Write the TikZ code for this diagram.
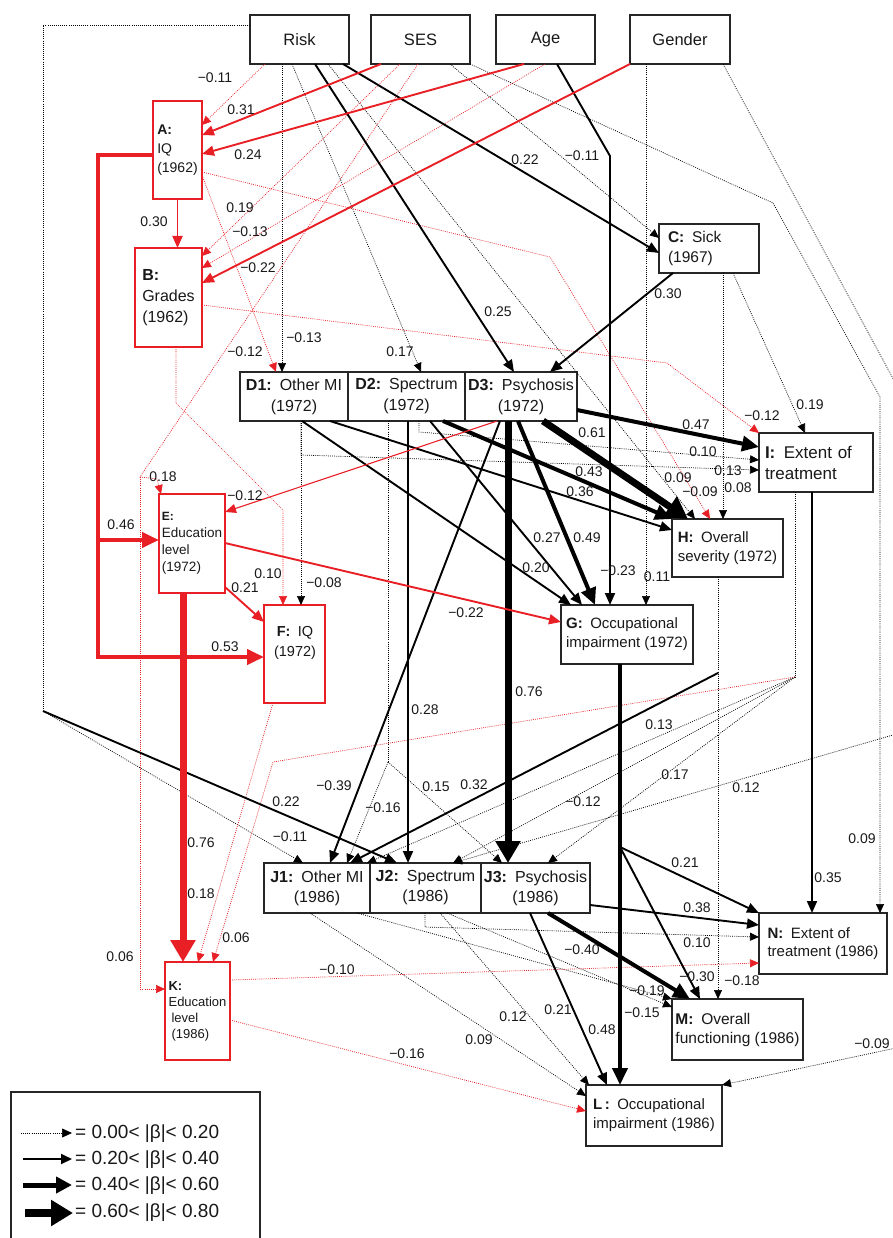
\documentclass[tikz,border=0pt]{standalone}
\usepackage{fontspec}
\setmainfont{Liberation Sans}
\usetikzlibrary{arrows.meta,calc}
\definecolor{rd}{RGB}{232,32,38}
\newcommand\setfs[2]{\fontsize{#1}{#2}\selectfont}
\begin{document}
\begin{tikzpicture}[x=1pt,y=-1pt,
 bx/.style={draw=black!85, line width=1.3pt, fill=white, inner sep=2pt, outer sep=0pt, anchor=north west, align=center, text=black!90},
 rbx/.style={bx, draw=rd},
 lab/.style={font=\setfs{14}{14}, inner sep=0pt, text=black!90},
 p0/.style={line width=0.7pt, dash pattern=on 0.9pt off 1.2pt, -{Triangle[length=9pt,width=8pt]}},
 p1/.style={line width=1.9pt, -{Triangle[length=12pt,width=10pt]}},
 p2/.style={line width=4pt, line join=miter, -{Triangle[length=17pt,width=15pt]}},
 p3/.style={line width=7pt, -{Triangle[length=22pt,width=24pt]}},
 pr/.style={line width=1.1pt, -{Triangle[length=11pt,width=9pt]}}
]
\useasboundingbox (0,0) rectangle (893,1238);
\clip (0,0) rectangle (893,1238);

% ---------- boxes ----------
\node[bx,minimum width=99,minimum height=49,font=\setfs{16.5}{19}] (Risk) at (250,15) {Risk};
\node[bx,minimum width=99,minimum height=49,font=\setfs{16.5}{19}] (SES) at (371,15) {SES};
\node[bx,minimum width=99,minimum height=49,font=\setfs{16.5}{19}] (Age) at (496,15) {Age};
\node[bx,minimum width=100,minimum height=49,font=\setfs{16.5}{19}] (Gender) at (630,15) {Gender};
\node[rbx,minimum width=49,minimum height=98,align=left,font=\setfs{14}{19}] (A) at (153,101) {\textbf{A:}\\IQ\\(1962)};
\node[rbx,minimum width=67,minimum height=99,align=left,font=\setfs{16}{21}] (B) at (135,248) {\textbf{B:}\\Grades\\(1962)};
\node[bx,minimum height=49,text width=82,inner xsep=9,align=left,font=\setfs{15.5}{20}] (C) at (659,224) {\textbf{C:}\enspace Sick\\(1967)};
\node[bx,minimum width=108,minimum height=49,inner xsep=1,font=\setfs{16}{21}] (D1) at (240,372) {\textbf{D1:}\enspace Other MI\\(1972)};
\node[bx,minimum width=117,minimum height=49,inner xsep=1,font=\setfs{16}{21}] (D2) at (348,372) {\textbf{D2:}\enspace Spectrum\\(1972)};
\node[bx,minimum width=112,minimum height=49,inner xsep=1,font=\setfs{16}{21}] (D3) at (465,372) {\textbf{D3:}\enspace Psychosis\\(1972)};
\node[rbx,minimum width=66,minimum height=99,align=left,font=\setfs{13.5}{17}] (E) at (159,494) {{\setfs{12}{17}\textbf{E:}}\\Education\\level\\(1972)};
\node[rbx,minimum width=61,minimum height=98] (F) at (264,605) {};
\node[align=center,font=\setfs{14.5}{20},text=black!90,inner sep=0pt] (Ft) at (295,643) {\textbf{F:}\enspace IQ\\(1972)};
\node[bx,minimum width=132,minimum height=59,align=left,font=\setfs{15}{19}] (G) at (561,605) {\textbf{G:}\enspace Occupational\\impairment (1972)};
\node[bx,minimum width=111,minimum height=58,align=left,font=\setfs{15}{19}] (H) at (672,519) {\textbf{H:}\enspace Overall\\severity (1972)};
\node[bx,minimum height=59,text width=102,inner xsep=6,align=left,font=\setfs{17}{21}] (I) at (759,433) {\textbf{I:}\enspace Extent of\\treatment};
\node[bx,minimum width=106,minimum height=50,inner xsep=1,font=\setfs{16}{20}] (J1) at (264,863) {\textbf{J1:}\enspace Other MI\\(1986)};
\node[bx,minimum width=111,minimum height=50,inner xsep=1,font=\setfs{16}{20}] (J2) at (370,863) {\textbf{J2:}\enspace Spectrum\\(1986)};
\node[bx,minimum width=109,minimum height=50,inner xsep=1,font=\setfs{16}{20}] (J3) at (481,863) {\textbf{J3:}\enspace Psychosis\\(1986)};
\node[rbx,minimum width=65,minimum height=98,align=left,font=\setfs{13}{16}] (K) at (165,962) {\textbf{K:}\\Education\\\hspace*{3pt}level\\\hspace*{3pt}(1986)};
\node[bx,minimum width=136,minimum height=61,align=left,font=\setfs{15}{19}] (L) at (586,1085) {\textbf{L\,:}\enspace Occupational\\impairment (1986)};
\node[bx,minimum width=131,minimum height=61,align=left,font=\setfs{15.5}{19}] (M) at (672,999) {\textbf{M:}\enspace Overall\\functioning (1986)};
\node[bx,minimum width=128,minimum height=61,align=left,font=\setfs{15}{18}] (N) at (759,913) {\textbf{N:}\enspace Extent of\\treatment (1986)};
\node[bx,minimum width=249,minimum height=170] (leg) at (11,1092) {};

% ---------- junction coordinates ----------
\coordinate (rkA) at (43,25);
\coordinate (rkB) at (43,711);
\coordinate (ageb) at (610,156);
\coordinate (abend) at (550,257);
\coordinate (bbend) at (667,363);
\coordinate (sesn1) at (773,203);
\coordinate (sesn2) at (880,397);
\coordinate (gx1) at (910,410);
\coordinate (gx2) at (910,730);
\coordinate (gx3) at (910,1045);
\coordinate (bf1) at (176,403);
\coordinate (bf2) at (283,510);
\coordinate (d1b) at (301,455);
\coordinate (d2b) at (419,432);
\coordinate (fanD2) at (388,762);
\coordinate (ath) at (98,155);
\coordinate (atb) at (98,657);
\coordinate (ate) at (98,540);
\coordinate (sesb) at (140,477);
\coordinate (sese) at (157,479);
\coordinate (sesk) at (140,989);
\coordinate (fanI) at (795,677);
\coordinate (ik) at (273,762);
\coordinate (hj) at (718,673);
\coordinate (gj) at (620,847);
\coordinate (j2n) at (425,927);

% ---------- black dotted ----------
\draw[p0] (Risk.south -| 282,0) -- (D1.north -| 282,0);
\draw[p0] (Risk.south -| 292,0) -- (D2.north -| 421,0);
\draw[p0] (Risk.south -| 328,0) -- (H.north -| 695,0);
\draw[p0] (SES.south -| 450,0) -- (C.west |- 0,238);
\draw[p0] (SES.south -| 470,0) -- (sesn1) -- (sesn2) -- (N.north -| 880,0);
\draw[p0] (Gender.south -| 646,0) -- (G.north -| 646,0);
\draw[p0,-] (Gender.south -| 723,0) -- (gx1) -- (gx3);
\draw[p0] (gx2) -- (J2.north -| 453,0);
\draw[p0] (gx3) -- (L.north east);
\draw[p0] (C.south -| 733,0) -- (I.north -| 805,0);
\draw[p0] (C.south -| 723,0) -- (H.north -| 723,0);
\draw[p0] (D1.south -| 301,0) -- (F.north -| 301,0);
\draw[p0] (D1.south -| 301,0) -- (d1b) -- (I.west |- 0,470);
\draw[p0] (D2.south -| 419,0) -- (d2b) -- (I.west |- 0,460);
\draw[p0,-] (D2.south -| 388,0) -- (fanD2);
\draw[p0] (fanD2) -- (J1.north -| 347,0);
\draw[p0] (fanD2) -- (J3.north -| 502,0);
\draw[p0,-] (I.south -| 795,0) -- (fanI);
\draw[p0] (fanI) -- (J1.north -| 367,0);
\draw[p0] (fanI) -- (J2.north -| 453,0);
\draw[p0] (fanI) -- (J3.north -| 548,0);
\draw[p0] (H.south -| 718,0) -- (M.north -| 718,0);
\draw[p0,-] (Risk.west |- 0,25) -- (rkA) -- (rkB);
\draw[p0] (rkB) -- (J1.north -| 303,0);
\draw[p0] (J2.south -| 425,0) -- (j2n) -- (N.west |- 0,937);
\draw[p0] (J1.south -| 310,0) -- (L.west |- 0,1096);
\draw[p0] (J2.south -| 440,0) -- (L.north -| 589,0);
\draw[p0] (J1.south -| 357,0) -- (M.north west);
\draw[p0] (J2.south -| 447,0) -- (M.west |- 0,1007);

% ---------- red dotted ----------
\draw[p0,rd] (Risk.south -| 265,0) -- (A.east |- 0,125);
\draw[p0,rd] (SES.south -| 400,0) -- (B.east |- 0,256);
\draw[p0,rd] (Age.south -| 545,0) -- (B.east |- 0,268);
\draw[p0,rd] (A.east |- 0,175) -- (D1.north -| 276,0);
\draw[p0,rd] (A.east |- 0,172) -- (abend) -- (H.north -| 710,0);
\draw[p0,rd] (B.east |- 0,305) -- (bbend) -- (I.north west);
\draw[p0,rd] (B.south -| 176,0) -- (bf1) -- (bf2) -- (F.north -| 283,0);
\draw[p0,rd] (SES.south -| 418,0) -- (sesb) -- (sese) -- (E.north -| 161,0);
\draw[p0,rd] (sesb) -- (sesk) -- (K.west |- 0,989);
\draw[p0,rd] (F.south -| 273,0) -- (K.north -| 198,0);
\draw[p0,rd] (fanI) -- (ik) -- (K.north -| 213,0);
\draw[p0,rd] (K.east |- 0,980) -- (N.west |- 0,963);
\draw[p0,rd] (K.east |- 0,1020) -- (L.west |- 0,1111);

% ---------- black solid ----------
\draw[p1] (Risk.south -| 315,0) -- (D3.north -| 514,0);
\draw[p1] (Risk.south -| 343,0) -- (C.west |- 0,253);
\draw[p1] (C.south -| 673,0) -- (D3.north -| 550,0);
\draw[p1] (Age.south -| 557,0) -- (ageb) -- (G.north -| 610,0);
\draw[p1] (D1.south -| 302,0) -- (G.north -| 571,0);
\draw[p1] (D1.south -| 330,0) -- (H.west |- 0,530);
\draw[p1] (D2.south -| 430,0) -- (G.north -| 582,0);
\draw[p1] (D2.south -| 408,0) -- (J2.north -| 408,0);
\draw[p1] (D3.south -| 500,0) -- (J1.north -| 330,0);
\draw[p1] (hj) -- (J1.north -| 350,0);
\draw[p1] (rkB) -- (J2.north -| 397,0);
\draw[p1] (I.south -| 812,0) -- (N.north -| 812,0);
\draw[p1] (gj) -- (N.north west);
\draw[p1] (gj) -- (M.north -| 700,0);
\draw[p1] (J3.east |- 0,905) -- (N.west |- 0,925);
\draw[p1] (J3.south -| 530,0) -- (L.north -| 607,0);

% ---------- black thick ----------
\draw[p2] (D2.south -| 443,0) -- (H.north west);
\draw[p2] (D3.east |- 0,410) -- (I.west |- 0,447);
\draw[p2] (D3.south -| 518,0) -- (G.north -| 595,0);
\draw[p2] (G.south -| 620,0) -- (L.north -| 620,0);
\draw[p2] (J3.south -| 548,0) -- (M.north -| 690,0);
\draw[p3] (D3.south -| 543,0) -- (H.north -| 688,0);
\draw[p3] (D3.south -| 508,0) -- (J3.north -| 508,0);

% ---------- red solid ----------
\draw[p1,rd] (SES.south -| 381,0) -- (A.east |- 0,135);
\draw[p1,rd] (Age.south -| 524,0) -- (A.east |- 0,154);
\draw[p1,rd] (A.south) -- (B.north -| A.south);
\draw[p1,rd] (Gender.south west) -- (B.east |- 0,283);
\draw[pr,rd] (D3.south -| 497,0) -- (E.east |- 0,512);
\draw[p1,rd] (E.east |- 0,543) -- (G.west |- 0,622);
\draw[p1,rd] (E.east |- 0,587) -- (F.west |- 0,622);
\draw[p2,rd] (A.west |- 0,155) -- (ath) -- (atb) -- (F.west |- 0,657);
\draw[p2,rd] (ate) -- (E.west |- 0,540);
\draw[p3,rd] (E.south -| 183,0) -- (K.north -| 183,0);

% ---------- labels ----------
\foreach \x/\y/\t [count=\i] in {
 215/78/−0.11, 241/110/0.31, 248/155/0.24, 154/222/0.30, 240/208/0.19,
 250/232/−0.13, 258/268/−0.22, 245/352/−0.12, 304/338/−0.13, 400/352/0.17,
 498/312/0.25, 525/160/0.22, 582/156/−0.11, 668/294/0.30, 810/405/0.19,
 762/416/−0.12, 696/425/0.47, 592/433/0.61, 703/452/0.10, 728/471/0.13,
 589/472/0.43, 580/492/0.36, 678/478/0.09, 700/492/−0.09, 738/488/0.08,
 547/538/0.27, 587/538/0.49, 536/568/0.20, 618/571/−0.23, 657/577/0.11,
 466/613/−0.22, 163/477/0.18, 245/496/−0.12, 121/525/0.46, 268/574/0.10,
 245/588/0.21, 324/583/−0.08, 225/647/0.53, 529/692/0.76, 425/710/0.28,
 659/725/0.13, 675/775/0.17, 746/788/0.12, 334/786/−0.39, 286/802/0.22,
 436/787/0.15, 474/785/0.32, 383/808/−0.16, 583/802/−0.12, 290/837/−0.11,
 201/843/0.76, 862/839/0.09, 685/863/0.21, 828/878/0.35, 201/894/0.18,
 697/908/0.38, 236/938/0.06, 697/943/0.10, 582/950/−0.40, 120/957/0.06,
 337/970/−0.10, 697/977/−0.30, 742/981/−0.18, 647/991/−0.19, 558/1010/0.21,
 642/1013/−0.15, 513/1017/0.12, 602/1030/0.48, 479/1040/0.09, 872/1044/−0.09,
 407/1054/−0.16}
 \node[lab] (lb\i) at (\x,\y) {\t};

% ---------- legend ----------
\coordinate (lg0a) at (21,1133); \coordinate (lg0b) at (72,1133);
\coordinate (lg1a) at (23,1159); \coordinate (lg1b) at (72,1159);
\coordinate (lg2a) at (23,1185); \coordinate (lg2b) at (72,1185);
\coordinate (lg3a) at (25,1213); \coordinate (lg3b) at (73,1213);
\draw[p0,-{Triangle[length=10pt,width=9pt]}] (lg0a) -- (lg0b);
\draw[line width=1.9pt,-{Triangle[length=11pt,width=10pt]}] (lg1a) -- (lg1b);
\draw[line width=5pt,-{Triangle[length=16pt,width=16pt]}] (lg2a) -- (lg2b);
\draw[line width=8pt,-{Triangle[length=22pt,width=25pt]}] (lg3a) -- (lg3b);
\node[anchor=west,font=\setfs{19}{19},text=black!90,inner sep=0pt] (lt0) at (75,1134) {= 0.00< |β|< 0.20};
\node[anchor=west,font=\setfs{19}{19},text=black!90,inner sep=0pt] (lt1) at (75,1160) {= 0.20< |β|< 0.40};
\node[anchor=west,font=\setfs{19}{19},text=black!90,inner sep=0pt] (lt2) at (75,1186) {= 0.40< |β|< 0.60};
\node[anchor=west,font=\setfs{19}{19},text=black!90,inner sep=0pt] (lt3) at (75,1213) {= 0.60< |β|< 0.80};
\end{tikzpicture}
\end{document}
